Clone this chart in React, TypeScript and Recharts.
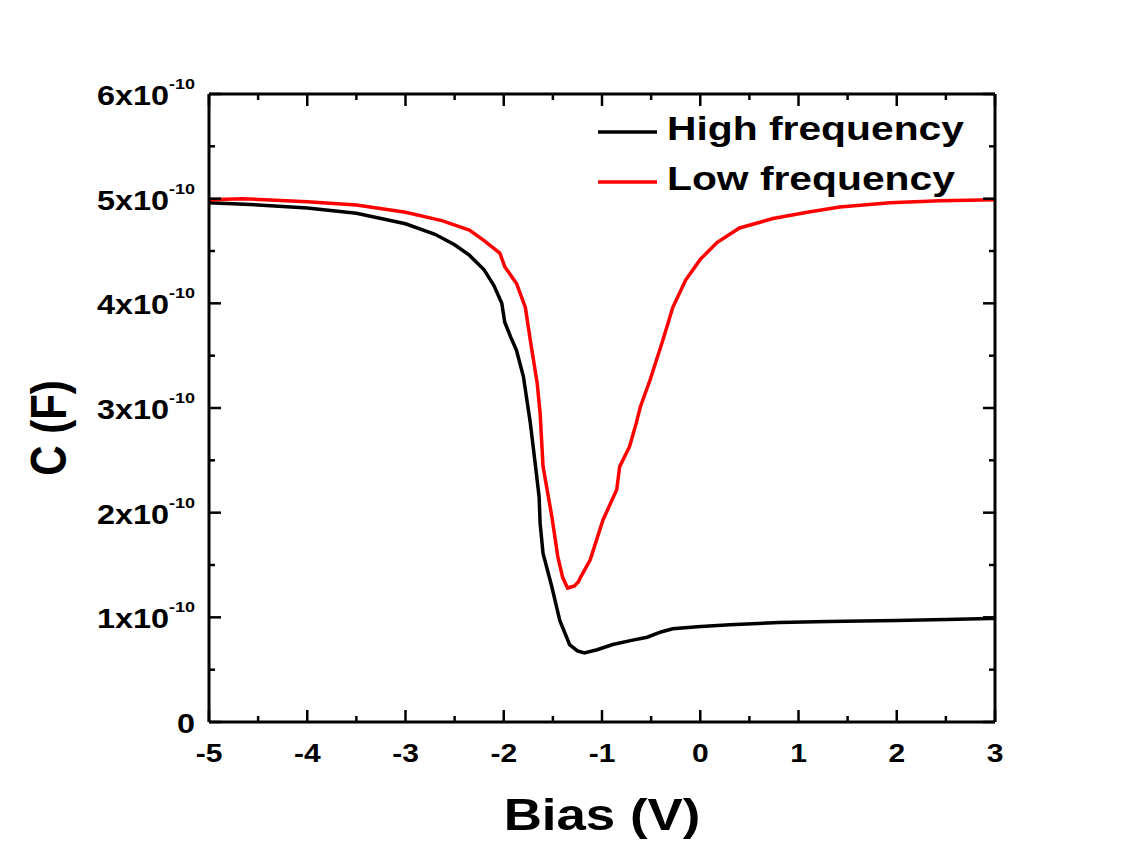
import React from 'react';
import { LineChart, Line, XAxis, YAxis, Legend } from 'recharts';

// Units: capacitance values below are in units of 1e-10 F
const UNIT = 1e-10;

const biasHigh = [
  -5.0, -4.5, -4.0, -3.5, -3.0, -2.7, -2.5, -2.35, -2.2, -2.1, -2.02, -1.99, -1.93, -1.87, -1.8,
  -1.73, -1.68, -1.64, -1.63, -1.6, -1.51, -1.43, -1.36, -1.33, -1.25, -1.18, -1.05, -0.89, -0.7,
  -0.54, -0.4, -0.28, -0.03, 0.3, 0.8, 1.3, 2.0, 2.5, 2.95, 3.0,
];
const capHigh = [
  4.96, 4.94, 4.91, 4.86, 4.76, 4.66, 4.56, 4.46, 4.32, 4.17, 4.0, 3.82, 3.68, 3.55, 3.3,
  2.86, 2.47, 2.15, 1.9, 1.61, 1.29, 0.97, 0.81, 0.74, 0.68, 0.66, 0.69, 0.74, 0.78,
  0.81, 0.86, 0.89, 0.91, 0.93, 0.95, 0.96, 0.97, 0.98, 0.99, 0.99,
];

const biasLow = [
  -5.0, -4.66, -4.0, -3.5, -3.0, -2.63, -2.35, -2.2, -2.04, -1.99, -1.87, -1.78, -1.73, -1.66,
  -1.63, -1.6, -1.51, -1.45, -1.4, -1.35, -1.28, -1.24, -1.22, -1.12, -0.99, -0.85, -0.82, -0.72,
  -0.65, -0.61, -0.51, -0.38, -0.28, -0.15, 0.0, 0.17, 0.4, 0.74, 1.09, 1.42, 1.93, 2.44, 3.0,
];
const capLow = [
  4.99, 5.0, 4.97, 4.94, 4.87, 4.79, 4.7, 4.6, 4.48, 4.35, 4.19, 3.96, 3.65, 3.24,
  2.95, 2.44, 1.96, 1.58, 1.38, 1.28, 1.3, 1.34, 1.38, 1.55, 1.93, 2.22, 2.44, 2.63,
  2.86, 3.01, 3.27, 3.65, 3.96, 4.22, 4.42, 4.58, 4.72, 4.81, 4.87, 4.92, 4.96, 4.98, 4.99,
];

const xTicks = [-5, -4.5, -4, -3.5, -3, -2.5, -2, -1.5, -1, -0.5, 0, 0.5, 1, 1.5, 2, 2.5, 3];
const yTicksUnits = [0, 0.5, 1, 1.5, 2, 2.5, 3, 3.5, 4, 4.5, 5, 5.5, 6];
const seriesNames = ['High frequency', 'Low frequency'];
const seriesColors = ['#000000', '#ff0000'];
const xTitle = 'Bias (V)';
const yTitle = 'C (F)';

const highData = biasHigh.map((b, i) => ({ bias: b, cap: capHigh[i] * UNIT }));
const lowData = biasLow.map((b, i) => ({ bias: b, cap: capLow[i] * UNIT }));
const yTicks = yTicksUnits.map((t) => t * UNIT);

const FONT = '"Liberation Sans", Arial, Helvetica, sans-serif';
const SX = 1.2;
const MAJOR = 12;
const MINOR = 6;
const TW = 2.5;

const isInt = (v: number) => Math.abs(v - Math.round(v)) < 1e-6;

const BottomTick = (props: any) => {
  const { x, y, payload } = props;
  const v = payload.value;
  const major = isInt(v);
  return (
    <g>
      <line x1={x} x2={x} y1={y} y2={y - (major ? MAJOR : MINOR)} stroke="#000" strokeWidth={TW} />
      {major && (
        <g transform={`translate(${x},${y + 40}) scale(${SX},1)`}>
          <text textAnchor="middle" fontFamily={FONT} fontWeight="bold" fontSize={25} fill="#000">
            {String(Math.round(v))}
          </text>
        </g>
      )}
    </g>
  );
};

const TopTick = (props: any) => {
  const { x, y, payload } = props;
  const major = isInt(payload.value);
  return <line x1={x} x2={x} y1={y} y2={y + (major ? MAJOR : MINOR)} stroke="#000" strokeWidth={TW} />;
};

const LeftTick = (props: any) => {
  const { x, y, payload } = props;
  const n = payload.value / UNIT;
  const major = isInt(n);
  const k = Math.round(n);
  return (
    <g>
      <line x1={x} x2={x + (major ? MAJOR : MINOR)} y1={y} y2={y} stroke="#000" strokeWidth={TW} />
      {major && (
        <g transform={`translate(${x - 14},${y + 11}) scale(${SX},1)`}>
          <text textAnchor="end" fontFamily={FONT} fontWeight="bold" fontSize={27} fill="#000">
            {k === 0 ? (
              '0'
            ) : (
              <>
                <tspan>{`${k}x10`}</tspan>
                <tspan dy={-16} fontSize={15}>-10</tspan>
              </>
            )}
          </text>
        </g>
      )}
    </g>
  );
};

const RightTick = (props: any) => {
  const { x, y, payload } = props;
  const major = isInt(payload.value / UNIT);
  return <line x1={x} x2={x - (major ? MAJOR : MINOR)} y1={y} y2={y} stroke="#000" strokeWidth={TW} />;
};

const XTitle = (props: any) => {
  const vb = props.viewBox || {};
  return (
    <g transform={`translate(${vb.x + vb.width / 2},${vb.y + 108}) scale(${SX},1)`}>
      <text textAnchor="middle" fontFamily={FONT} fontWeight="bold" fontSize={44} fill="#000">
        {xTitle}
      </text>
    </g>
  );
};

const YTitle = (props: any) => {
  const vb = props.viewBox || {};
  const plotLeft = vb.x + vb.width;
  return (
    <g transform={`translate(${plotLeft - 143},${vb.y + vb.height / 2 + 20}) scale(${SX},1) rotate(-90)`}>
      <text textAnchor="middle" fontFamily={FONT} fontWeight="bold" fontSize={42} fill="#000">
        {yTitle}
      </text>
    </g>
  );
};

const LegendContent = (props: any) => {
  const items =
    props.payload && props.payload.length
      ? props.payload
      : seriesNames.map((n, i) => ({ value: n, color: seriesColors[i] }));
  return (
    <svg width={420} height={110} style={{ overflow: 'visible', display: 'block' }}>
      {items.map((it: any, i: number) => (
        <g key={i}>
          <line x1={8} x2={67} y1={32 + 50 * i} y2={32 + 50 * i} stroke={it.color} strokeWidth={3.5} />
          <g transform={`translate(77,${40 + 50 * i}) scale(${SX},1)`}>
            <text fontFamily={FONT} fontWeight="bold" fontSize={34} fill="#000">
              {it.value}
            </text>
          </g>
        </g>
      ))}
    </svg>
  );
};

export default function App() {
  return (
    <div style={{ background: '#fff' }}>
      <LineChart width={1125} height={840} margin={{ top: 76, left: 141, right: 128, bottom: 96 }}>
        <XAxis
          xAxisId="b"
          type="number"
          dataKey="bias"
          domain={[-5, 3]}
          ticks={xTicks}
          interval={0}
          tickSize={0}
          tickMargin={0}
          tickLine={false}
          tick={<BottomTick />}
          axisLine={{ stroke: '#000', strokeWidth: 3 }}
          height={30}
          allowDataOverflow
          label={{ content: XTitle } as any}
        />
        <XAxis
          xAxisId="t"
          orientation="top"
          type="number"
          dataKey="bias"
          domain={[-5, 3]}
          ticks={xTicks}
          interval={0}
          tickSize={0}
          tickMargin={0}
          tickLine={false}
          tick={<TopTick />}
          axisLine={{ stroke: '#000', strokeWidth: 3 }}
          height={10}
          allowDataOverflow
        />
        <YAxis
          yAxisId="l"
          type="number"
          dataKey="cap"
          domain={[0, 6 * UNIT]}
          ticks={yTicks}
          interval={0}
          tickSize={0}
          tickMargin={0}
          tickLine={false}
          tick={<LeftTick />}
          axisLine={{ stroke: '#000', strokeWidth: 3 }}
          width={60}
          allowDataOverflow
          label={{ content: YTitle } as any}
        />
        <YAxis
          yAxisId="r"
          orientation="right"
          type="number"
          dataKey="cap"
          domain={[0, 6 * UNIT]}
          ticks={yTicks}
          interval={0}
          tickSize={0}
          tickMargin={0}
          tickLine={false}
          tick={<RightTick />}
          axisLine={{ stroke: '#000', strokeWidth: 3 }}
          width={10}
          allowDataOverflow
        />
        <Legend
          layout="horizontal"
          align="center"
          verticalAlign="middle"
          content={<LegendContent />}
          wrapperStyle={{ position: 'absolute', left: 582, top: 92, width: 420, height: 110 }}
        />
        <Line
          xAxisId="b"
          yAxisId="l"
          data={highData}
          dataKey="cap"
          name={seriesNames[0]}
          stroke={seriesColors[0]}
          strokeWidth={3.5}
          dot={false}
          activeDot={false}
          type="linear"
          isAnimationActive={false}
        />
        <Line
          xAxisId="b"
          yAxisId="l"
          data={lowData}
          dataKey="cap"
          name={seriesNames[1]}
          stroke={seriesColors[1]}
          strokeWidth={3.5}
          dot={false}
          activeDot={false}
          type="linear"
          isAnimationActive={false}
        />
      </LineChart>
    </div>
  );
}
